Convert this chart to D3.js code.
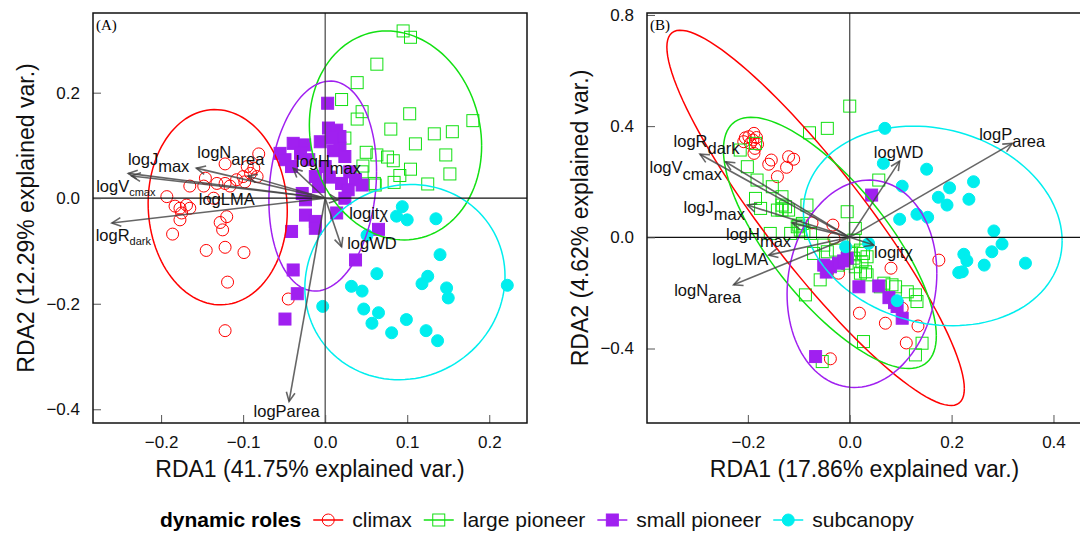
<!DOCTYPE html>
<html>
<head>
<meta charset="utf-8">
<script src="https://cdn.jsdelivr.net/npm/d3@7"></script>
<style>
  body { margin: 0; background: #fff; }
  svg { font-family: "Liberation Sans", Arial, sans-serif; }
</style>
</head>
<body>
<svg id="chart" width="1080" height="538"></svg>
<script>
// ---- data ----
const roles = ['climax', 'large pioneer', 'small pioneer', 'subcanopy'];
const roleColors = ['#ff0000', '#12e012', '#a020f0', '#00eeee'];

// trait vectors: [base text, subscript]
const traits = [
  ['logJ', 'max'], ['logV', 'cmax'], ['logN', 'area'], ['logLMA', ''], ['logR', 'dark'],
  ['logH', 'max'], ['logitχ', ''], ['logWD', ''], ['logP', 'area'],
];

// panel A (RDA1 41.75%, RDA2 12.29%)
const aClimax = [
  [-0.081, 0.084], [-0.122, 0.065], [-0.095, 0.060], [-0.087, 0.057], [-0.083, 0.041], [-0.091, 0.047],
  [-0.100, 0.041], [-0.098, 0.031], [-0.108, 0.035], [-0.116, 0.023], [-0.122, 0.028], [-0.132, 0.028],
  [-0.146, 0.038], [-0.148, 0.023], [-0.165, 0.023], [-0.193, 0.003], [-0.183, -0.015], [-0.177, -0.019],
  [-0.169, -0.013], [-0.165, -0.019], [-0.175, -0.028], [-0.177, -0.041], [-0.136, 0.0], [-0.120, -0.035],
  [-0.128, -0.046], [-0.125, -0.060], [-0.186, -0.068], [-0.145, -0.099], [-0.122, -0.093], [-0.099, -0.103],
  [-0.119, -0.159], [-0.045, -0.191], [-0.122, -0.251],
];
const aLargePioneer = [
  [0.095, 0.317], [0.104, 0.305], [0.063, 0.254], [0.039, 0.219], [0.020, 0.187], [0.045, 0.164],
  [0.039, 0.150], [0.103, 0.160], [0.180, 0.147], [0.080, 0.131], [0.155, 0.126], [0.133, 0.122],
  [0.110, 0.103], [0.024, 0.114], [0.147, 0.082], [0.050, 0.087], [0.063, 0.082], [0.076, 0.078],
  [0.083, 0.071], [0.046, 0.061], [0.104, 0.055], [0.152, 0.046], [0.091, 0.043], [0.084, 0.030],
  [0.060, 0.028], [0.125, 0.027], [0.045, 0.050], [0.061, 0.025],
];
const aSmallPioneer = [
  [0.003, 0.180], [0.004, 0.133], [0.014, 0.129], [-0.039, 0.104], [-0.025, 0.101], [-0.006, 0.107],
  [0.018, 0.117], [-0.055, 0.085], [-0.049, 0.073], [0.018, 0.095], [0.024, 0.079], [-0.020, 0.073],
  [-0.041, 0.060], [0.037, 0.035], [0.045, 0.025], [0.020, 0.028], [0.028, 0.016], [-0.012, 0.041],
  [-0.028, 0.009], [-0.024, -0.003], [-0.008, 0.022], [0.024, 0.0], [-0.024, -0.032], [-0.012, -0.044],
  [0.014, -0.028], [-0.041, -0.063], [-0.012, -0.057], [0.037, -0.117], [-0.039, -0.136], [-0.034, -0.181],
  [-0.049, -0.229], [0.065, -0.059], [0.008, 0.115], [0.010, 0.090], [0.000, 0.060], [0.030, 0.050],
  [-0.030, 0.085], [0.005, 0.040],
];
const aSubcanopy = [
  [0.094, -0.016], [0.087, -0.034], [0.100, -0.041], [0.135, -0.039], [0.051, -0.070], [0.140, -0.107],
  [0.063, -0.143], [0.125, -0.148], [0.118, -0.162], [0.032, -0.167], [0.045, -0.176], [0.148, -0.170],
  [0.150, -0.189], [0.222, -0.165], [-0.003, -0.205], [0.047, -0.210], [0.065, -0.217], [0.057, -0.237],
  [0.099, -0.230], [0.081, -0.255], [0.123, -0.251], [0.137, -0.270],
];
// ellipses: [cx, cy, half width, half height, tilt (correlation)]
const aEllipses = [
  [-0.131, -0.017, 0.0848, 0.185, -0.04],
  [0.0857, 0.119, 0.105, 0.198, -0.10],
  [-0.003, 0.023, 0.0656, 0.199, 0.14],
  [0.0972, -0.159, 0.122, 0.185, 0.06],
];
const aTips = [
  [-0.240, 0.047], [-0.236, 0.042], [-0.157, 0.057], [-0.094, 0.042], [-0.260, -0.047],
  [-0.039, 0.057], [0.016, -0.003], [0.020, -0.092], [-0.044, -0.385],
];
const aLabels = [
  [-0.203, 0.063], [-0.243, 0.0125], [-0.115, 0.076], [-0.120, -0.0127], [-0.246, -0.082],
  [0.004, 0.060], [0.053, -0.040], [0.057, -0.097], [-0.047, -0.414],
];

// panel B (RDA1 17.86%, RDA2 4.62%)
const bClimax = [
  [-0.188, 0.374], [-0.198, 0.362], [-0.183, 0.359], [-0.208, 0.344], [-0.195, 0.338], [-0.181, 0.335],
  [-0.188, 0.302], [-0.154, 0.278], [-0.159, 0.263], [-0.120, 0.290], [-0.110, 0.281], [-0.124, 0.252],
  [-0.142, 0.218], [-0.074, 0.052], [-0.033, 0.044], [-0.031, -0.004], [-0.022, -0.129], [0.081, -0.111],
  [0.175, -0.082], [0.019, -0.273], [0.070, -0.309], [0.134, -0.319], [0.103, -0.255], [0.111, -0.380],
  [-0.038, -0.437], [-0.190, 0.350], [-0.186, 0.320], [-0.205, 0.358],
];
const bLargePioneer = [
  [0.0, 0.472], [-0.044, 0.392], [-0.079, 0.376], [-0.185, 0.338], [-0.215, 0.314], [-0.201, 0.254],
  [-0.182, 0.206], [-0.185, 0.140], [-0.175, 0.104], [-0.152, 0.182], [-0.142, 0.098], [-0.133, 0.116],
  [-0.126, 0.110], [-0.133, 0.098], [-0.120, 0.098], [-0.133, 0.146], [-0.084, 0.116], [-0.100, 0.044],
  [-0.090, 0.020], [-0.156, 0.014], [-0.005, 0.092], [0.057, 0.206], [-0.093, 0.050], [-0.103, 0.038],
  [-0.116, 0.014], [-0.097, 0.026], [-0.077, 0.014], [-0.051, -0.028], [-0.071, -0.058], [-0.044, -0.052],
  [-0.028, -0.046], [-0.058, -0.153], [-0.044, -0.111], [-0.022, -0.100], [0.008, -0.075], [0.024, -0.088],
  [0.011, -0.106], [0.031, -0.124], [0.034, -0.135], [0.021, -0.129], [-0.005, -0.093], [0.001, -0.058],
  [0.027, -0.058], [0.060, -0.178], [0.090, -0.178], [0.113, -0.196], [0.129, -0.207], [0.132, -0.231],
  [-0.087, -0.207], [0.027, -0.375], [0.142, -0.381], [0.129, -0.423], [-0.054, -0.447], [0.067, -0.165],
  [0.083, -0.171], [0.034, -0.070], [0.021, -0.046], [0.008, -0.010], [0.011, 0.032],
];
const bSmallPioneer = [
  [0.043, 0.152], [-0.051, -0.100], [-0.038, -0.106], [-0.005, -0.075], [-0.022, -0.093], [-0.046, -0.125],
  [0.018, -0.178], [0.057, -0.175], [0.077, -0.217], [0.093, -0.249], [0.103, -0.291], [-0.067, -0.429],
  [0.088, -0.235], [-0.012, -0.085],
];
const bSubcanopy = [
  [0.069, 0.392], [0.066, 0.266], [0.151, 0.245], [0.103, 0.184], [0.196, 0.178], [0.243, 0.200],
  [0.174, 0.144], [0.191, 0.116], [0.234, 0.137], [0.098, 0.065], [0.132, 0.083], [0.153, 0.072],
  [0.283, 0.023], [0.299, -0.024], [0.279, -0.052], [0.224, -0.061], [0.230, -0.084], [0.264, -0.100],
  [0.214, -0.127], [0.221, -0.124], [0.345, -0.093], [-0.008, -0.034], [0.037, -0.022], [0.093, -0.228],
];
const bEllipses = [
  [-0.067, 0.070, 0.292, 0.675, -0.91],
  [-0.039, -0.020, 0.209, 0.452, -0.74],
  [0.024, -0.167, 0.147, 0.373, 0.10],
  [0.163, 0.041, 0.254, 0.359, -0.15],
];
const bTips = [
  [-0.201, 0.116], [-0.244, 0.272], [-0.228, -0.171], [-0.159, -0.064], [-0.294, 0.299],
  [-0.113, 0.052], [0.047, -0.028], [0.098, 0.274], [0.319, 0.338],
];
const bLabels = [
  [-0.266, 0.086], [-0.322, 0.230], [-0.279, -0.211], [-0.215, -0.100], [-0.281, 0.326],
  [-0.179, -0.010], [0.086, -0.075], [0.096, 0.284], [0.319, 0.350],
];

const panels = [
  {
    tag: '(A)', box: { l: 93, r: 527, t: 13, b: 423 },
    xlim: [-0.283, 0.246], ylim: [-0.426, 0.351],
    xTicks: [-0.2, -0.1, 0, 0.1, 0.2], yTicks: [-0.4, -0.2, 0, 0.2],
    xTitle: 'RDA1 (41.75% explained var.)', yTitle: 'RDA2 (12.29% explained var.)',
    groups: [aClimax, aLargePioneer, aSmallPioneer, aSubcanopy],
    ellipses: aEllipses, tips: aTips, labels: aLabels,
    subStyle: ['big', 'small', 'big', 'none', 'small', 'big', 'none', 'none', 'flat'],
  },
  {
    tag: '(B)', box: { l: 647, r: 1082, t: 13, b: 423 },
    xlim: [-0.398, 0.456], ylim: [-0.668, 0.807],
    xTicks: [-0.2, 0, 0.2, 0.4], yTicks: [-0.4, 0, 0.4, 0.8],
    xTitle: 'RDA1 (17.86% explained var.)', yTitle: 'RDA2 (4.62% explained var.)',
    groups: [bClimax, bLargePioneer, bSmallPioneer, bSubcanopy],
    ellipses: bEllipses, tips: bTips, labels: bLabels,
    subStyle: ['big', 'big', 'big', 'none', 'big', 'big', 'none', 'none', 'big'],
  },
];

const svg = d3.select('#chart');
const defs = svg.append('defs');

/**
 * Draw one point marker for a role
 */
function marker(sel, role, color) {
  if (role === 0 || role === 3) {
    sel.append('circle')
      .attr('r', 6)
      .attr('fill', role === 3 ? color : 'none')
      .attr('stroke', color)
      .attr('stroke-width', 1);
  } else {
    sel.append('rect')
      .attr('x', -6).attr('y', -6)
      .attr('width', 12).attr('height', 12)
      .attr('fill', role === 2 ? color : 'none')
      .attr('stroke', color)
      .attr('stroke-width', 1);
  }
}

/**
 * Trait label with a subscript tspan
 */
function traitLabel(sel, t, style) {
  const txt = sel.append('text')
    .attr('text-anchor', 'middle')
    .attr('font-size', 16.5)
    .attr('fill', '#111');
  if (style === 'flat' || !t[1]) {
    txt.text(t[0] + t[1]);
    return txt;
  }
  txt.append('tspan').text(t[0]);
  txt.append('tspan')
    .attr('font-size', style === 'small' ? 11 : 16.5)
    .attr('dy', style === 'small' ? 4 : 7)
    .text(t[1]);
  return txt;
}

panels.forEach((p, pi) => {
  const x = d3.scaleLinear().domain(p.xlim).range([p.box.l, p.box.r]);
  const y = d3.scaleLinear().domain(p.ylim).range([p.box.b, p.box.t]);
  const g = svg.append('g').attr('class', `panel${pi}`);

  defs.append('clipPath').attr('id', `clip${pi}`)
    .append('rect')
    .attr('x', p.box.l).attr('y', p.box.t)
    .attr('width', p.box.r - p.box.l).attr('height', p.box.b - p.box.t);

  const plot = g.append('g').attr('clip-path', `url(#clip${pi})`);

  // points
  p.groups.forEach((pts, ri) => {
    plot.append('g')
      .selectAll('g')
      .data(pts)
      .join('g')
      .attr('transform', (d) => `translate(${x(d[0])},${y(d[1])})`)
      .each(function () { marker(d3.select(this), ri, roleColors[ri]); });
  });

  // ellipses (x = cx + a cos t, y = cy + b cos(t - acos(rho)))
  const ts = d3.range(0, 361, 3).map((deg) => (deg * Math.PI) / 180);
  const line = d3.line().x((d) => x(d[0])).y((d) => y(d[1]));
  p.ellipses.forEach((e, ri) => {
    const ph = Math.acos(e[4]);
    plot.append('path')
      .attr('d', line(ts.map((t) => [e[0] + e[2] * Math.cos(t), e[1] + e[3] * Math.cos(t - ph)])))
      .attr('fill', 'none')
      .attr('stroke', roleColors[ri])
      .attr('stroke-width', 1.5);
  });

  // zero lines
  plot.append('line')
    .attr('x1', p.box.l).attr('x2', p.box.r)
    .attr('y1', y(0)).attr('y2', y(0))
    .attr('stroke', '#111').attr('stroke-width', 1.2);
  plot.append('line')
    .attr('x1', x(0)).attr('x2', x(0))
    .attr('y1', p.box.t).attr('y2', p.box.b)
    .attr('stroke', '#444').attr('stroke-width', 1.2);

  // trait arrows
  const arrows = plot.append('g')
    .attr('stroke', '#404040')
    .attr('stroke-opacity', 0.8)
    .attr('stroke-width', 1.6)
    .attr('fill', 'none');
  p.tips.forEach((tip) => {
    const x0 = x(0); const y0 = y(0);
    const x1 = x(tip[0]); const y1 = y(tip[1]);
    const ang = Math.atan2(y1 - y0, x1 - x0);
    const h = 10; const spread = 0.45;
    arrows.append('line')
      .attr('x1', x0).attr('y1', y0).attr('x2', x1).attr('y2', y1);
    arrows.append('path')
      .attr('d', `M${x1 - h * Math.cos(ang - spread)},${y1 - h * Math.sin(ang - spread)}`
        + `L${x1},${y1}L${x1 - h * Math.cos(ang + spread)},${y1 - h * Math.sin(ang + spread)}`);
  });

  // trait labels
  p.labels.forEach((pos, i) => {
    traitLabel(plot, traits[i], p.subStyle[i])
      .attr('x', x(pos[0]))
      .attr('y', y(pos[1]));
  });

  // axes with inward ticks
  const xAxis = g.append('g')
    .attr('transform', `translate(0,${p.box.b})`)
    .call(d3.axisBottom(x).tickValues(p.xTicks).tickSize(-8).tickPadding(13).tickFormat(d3.format('.1f')));
  const yAxis = g.append('g')
    .attr('transform', `translate(${p.box.l},0)`)
    .call(d3.axisLeft(y).tickValues(p.yTicks).tickSize(-8).tickPadding(13).tickFormat(d3.format('.1f')));
  [xAxis, yAxis].forEach((ax) => {
    ax.select('.domain').remove();
    ax.selectAll('.tick line').attr('stroke', '#555');
    ax.selectAll('.tick text')
      .attr('font-family', '"Liberation Sans", Arial, sans-serif')
      .attr('font-size', 17)
      .attr('fill', '#111');
  });

  // frame
  g.append('rect')
    .attr('x', p.box.l).attr('y', p.box.t)
    .attr('width', p.box.r - p.box.l).attr('height', p.box.b - p.box.t)
    .attr('fill', 'none').attr('stroke', '#111').attr('stroke-width', 1.5);

  g.append('text')
    .attr('x', p.box.l + 3).attr('y', p.box.t + 17)
    .attr('font-family', '"Liberation Serif", "DejaVu Serif", serif')
    .attr('font-size', 15)
    .text(p.tag);

  // axis titles
  g.append('text')
    .attr('x', (p.box.l + p.box.r) / 2).attr('y', p.box.b + 54)
    .attr('text-anchor', 'middle')
    .attr('font-size', 23)
    .attr('fill', '#111')
    .text(p.xTitle);
  g.append('text')
    .attr('transform', `translate(${p.box.l - 59},${(p.box.t + p.box.b) / 2}) rotate(-90)`)
    .attr('text-anchor', 'middle')
    .attr('font-size', 23)
    .attr('fill', '#111')
    .text(p.yTitle);
});

// legend
const legend = svg.append('g').attr('transform', 'translate(160,527)');
const head = legend.append('text')
  .attr('font-size', 21)
  .attr('font-weight', 'bold')
  .text('dynamic roles');
let cursor = head.node().getComputedTextLength() + 12;
roles.forEach((r, ri) => {
  const item = legend.append('g').attr('transform', `translate(${cursor},0)`);
  item.append('line')
    .attr('x1', 0).attr('x2', 30)
    .attr('y1', -7).attr('y2', -7)
    .attr('stroke', roleColors[ri]).attr('stroke-width', 1.5);
  item.append('g')
    .attr('transform', 'translate(15,-7)')
    .call((s) => marker(s, ri, roleColors[ri]));
  const t = item.append('text')
    .attr('x', 39)
    .attr('font-size', 21)
    .attr('fill', '#111')
    .text(r);
  cursor += 39 + t.node().getComputedTextLength() + 12;
});
</script>
</body>
</html>
